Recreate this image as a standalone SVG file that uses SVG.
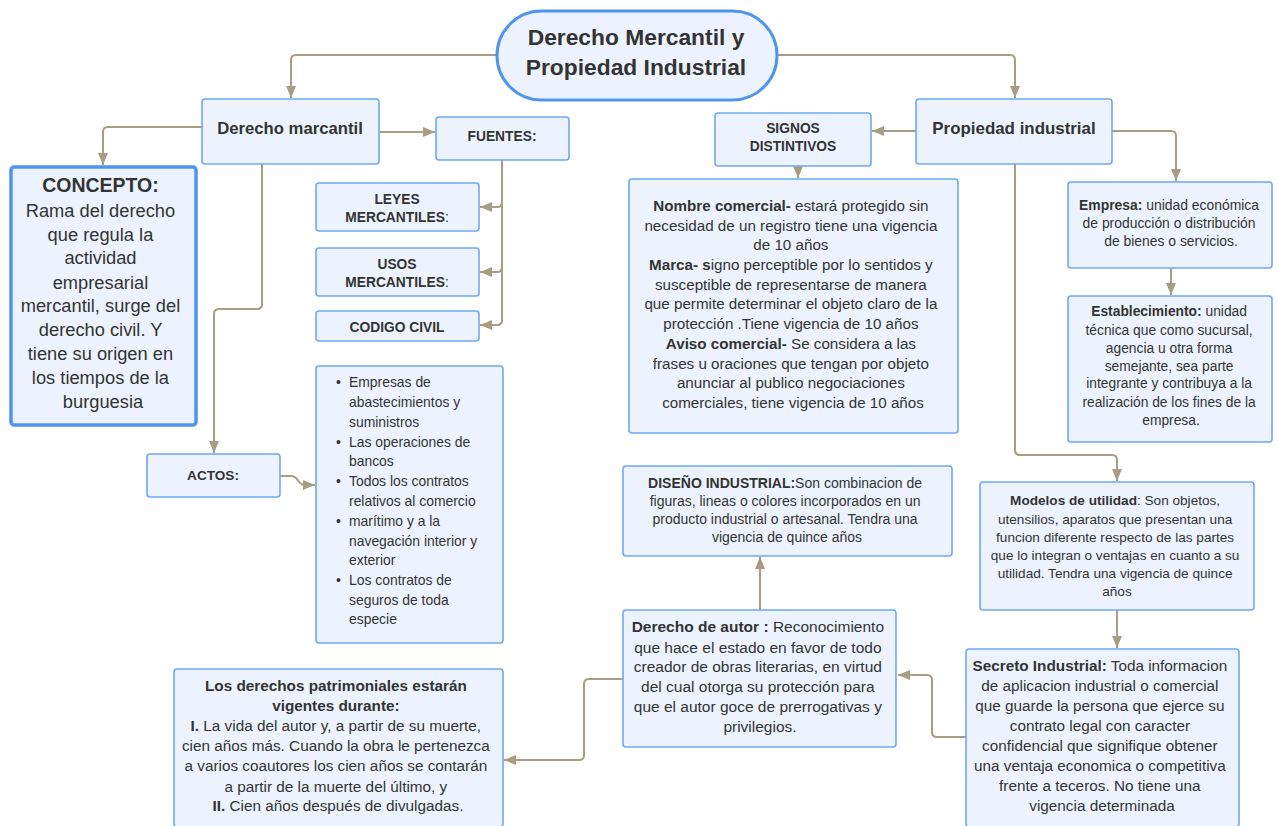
<svg xmlns="http://www.w3.org/2000/svg" width="1279" height="826" viewBox="0 0 1279 826">
<defs>
<marker id="ah" markerUnits="userSpaceOnUse" markerWidth="12" markerHeight="10" refX="12" refY="5" orient="auto">
<path d="M0,0 L12,5 L0,10 z" fill="#a69d82"/>
</marker>
<style>
.box{fill:#ecf3fe;stroke:#6ea9f3;stroke-width:1.6}
.t{font-family:"Liberation Sans",Arial,sans-serif;fill:#333333;text-anchor:middle}
.b{font-weight:bold}
.c{fill:none;stroke:#a69d82;stroke-width:2;marker-end:url(#ah)}
</style>
</defs>
<rect width="1279" height="826" fill="#ffffff"/>

<g id="connectors">
<path class="c" d="M496,55 H296 Q291,55 291,60 V98"/>
<path class="c" d="M777,55 H1010 Q1015,55 1015,60 V98"/>
<path class="c" d="M202,127 H108 Q103,127 103,132 V165"/>
<path class="c" d="M379,132 H435"/>
<path class="c" d="M502,160 V202 Q502,207 497,207 H480"/>
<path class="c" d="M502,160 V267 Q502,272 497,272 H480"/>
<path class="c" d="M502,160 V320 Q502,325 497,325 H480"/>
<path class="c" d="M262,164 V304 Q262,309 257,309 H219 Q214,309 214,314 V453"/>
<path class="c" d="M280,476 H291 C299,476 297,485 305,485 H315"/>
<path class="c" d="M916,131 H872"/>
<path class="c" d="M798,166 V178"/>
<path class="c" d="M1112,131 H1171 Q1176,131 1176,136 V181"/>
<path class="c" d="M1171,268 V295"/>
<path class="c" d="M1015,164 V450 Q1015,455 1020,455 H1112 Q1117,455 1117,460 V481"/>
<path class="c" d="M1117,610 V648"/>
<path class="c" d="M966,737 H937 Q932,737 932,732 V680 Q932,675 927,675 H898"/>
<path class="c" d="M760,610 V557"/>
<path class="c" d="M623,679 H589 Q584,679 584,684 V755 Q584,760 579,760 H504"/>
</g>

<g id="title">
<rect x="497" y="11" width="280" height="89" rx="44.5" fill="#ecf3fe" stroke="#4e95ee" stroke-width="3"/>
<text class="t b" font-size="22.8"><tspan x="636" y="45">Derecho Mercantil y</tspan><tspan x="636" y="75">Propiedad Industrial</tspan></text>
</g>

<g id="derecho-marcantil">
<rect class="box" x="202" y="99" width="177" height="65" rx="3"/>
<text class="t b" font-size="16.7" x="290" y="134">Derecho marcantil</text>
</g>

<g id="concepto">
<rect x="11" y="167" width="185" height="258" rx="3" fill="#ecf3fe" stroke="#4e95ee" stroke-width="3.5"/>
<text class="t" font-size="18.3">
<tspan x="103" y="192" font-weight="bold" font-size="19.5">CONCEPTO:</tspan>
<tspan x="103" y="217">Rama del derecho</tspan>
<tspan x="103" y="241">que regula la</tspan>
<tspan x="103" y="264">actividad</tspan>
<tspan x="103" y="289">empresarial</tspan>
<tspan x="103" y="312">mercantil, surge del</tspan>
<tspan x="103" y="336">derecho civil. Y</tspan>
<tspan x="103" y="360">tiene su origen en</tspan>
<tspan x="103" y="384">los tiempos de la</tspan>
<tspan x="103" y="408">burguesia</tspan>
</text>
</g>

<g id="fuentes">
<rect class="box" x="436" y="117" width="133" height="43" rx="3"/>
<text class="t b" font-size="13.8" x="502" y="141">FUENTES:</text>
</g>

<g id="leyes">
<rect class="box" x="316" y="183" width="163" height="48" rx="3"/>
<text class="t b" font-size="13.8"><tspan x="397" y="204">LEYES</tspan><tspan x="397" y="222">MERCANTILES<tspan font-weight="normal">:</tspan></tspan></text>
</g>

<g id="usos">
<rect class="box" x="316" y="248" width="163" height="48" rx="3"/>
<text class="t b" font-size="13.8"><tspan x="397" y="269">USOS</tspan><tspan x="397" y="287">MERCANTILES<tspan font-weight="normal">:</tspan></tspan></text>
</g>

<g id="codigo-civil">
<rect class="box" x="316" y="311" width="163" height="30" rx="3"/>
<text class="t b" font-size="13.8" x="397" y="332">CODIGO CIVIL</text>
</g>

<g id="actos">
<rect class="box" x="147" y="454" width="133" height="43" rx="3"/>
<text class="t b" font-size="13.6" x="213" y="480">ACTOS:</text>
</g>

<g id="actos-lista">
<rect class="box" x="316" y="366" width="187" height="277" rx="3"/>
<text class="t" font-size="13.9" style="text-anchor:start">
<tspan x="336" y="387">•</tspan><tspan x="349" y="387">Empresas de</tspan>
<tspan x="349" y="407">abastecimientos y</tspan>
<tspan x="349" y="427">suministros</tspan>
<tspan x="336" y="447">•</tspan><tspan x="349" y="447">Las operaciones de</tspan>
<tspan x="349" y="466">bancos</tspan>
<tspan x="336" y="486">•</tspan><tspan x="349" y="486">Todos los contratos</tspan>
<tspan x="349" y="506">relativos al comercio</tspan>
<tspan x="336" y="526">•</tspan><tspan x="349" y="526">marítimo y a la</tspan>
<tspan x="349" y="546">navegación interior y</tspan>
<tspan x="349" y="565">exterior</tspan>
<tspan x="336" y="585">•</tspan><tspan x="349" y="585">Los contratos de</tspan>
<tspan x="349" y="605">seguros de toda</tspan>
<tspan x="349" y="624">especie</tspan>
</text>
</g>

<g id="signos">
<rect class="box" x="715" y="113" width="156" height="53" rx="3"/>
<text class="t b" font-size="13.8"><tspan x="793" y="133">SIGNOS</tspan><tspan x="793" y="151">DISTINTIVOS</tspan></text>
</g>

<g id="nombre-comercial">
<rect class="box" x="629" y="179" width="329" height="254" rx="3"/>
<text class="t" font-size="15.2">
<tspan x="793" y="211"><tspan font-weight="bold">Nombre comercial-</tspan> estará protegido sin</tspan>
<tspan x="793" y="231">necesidad de un registro tiene una vigencia</tspan>
<tspan x="793" y="250">de 10 años</tspan>
<tspan x="793" y="270"><tspan font-weight="bold">Marca- s</tspan>igno perceptible por lo sentidos y</tspan>
<tspan x="793" y="290">susceptible de representarse de manera</tspan>
<tspan x="793" y="309">que permite determinar el objeto claro de la</tspan>
<tspan x="793" y="329">protección .Tiene vigencia de 10 años</tspan>
<tspan x="793" y="349"><tspan font-weight="bold">Aviso comercial-</tspan> Se considera a las</tspan>
<tspan x="793" y="369">frases u oraciones que tengan por objeto</tspan>
<tspan x="793" y="388">anunciar al publico negociaciones</tspan>
<tspan x="793" y="408">comerciales, tiene vigencia de 10 años</tspan>
</text>
</g>

<g id="propiedad-industrial">
<rect class="box" x="916" y="99" width="196" height="65" rx="3"/>
<text class="t b" font-size="16.9" x="1014" y="134">Propiedad industrial</text>
</g>

<g id="empresa">
<rect class="box" x="1068" y="182" width="204" height="86" rx="3"/>
<text class="t" font-size="13.9">
<tspan x="1171" y="210"><tspan font-weight="bold">Empresa:</tspan> unidad económica</tspan>
<tspan x="1171" y="228">de producción o distribución</tspan>
<tspan x="1171" y="246">de bienes o servicios.</tspan>
</text>
</g>

<g id="establecimiento">
<rect class="box" x="1068" y="296" width="204" height="146" rx="3"/>
<text class="t" font-size="13.8">
<tspan x="1171" y="316"><tspan font-weight="bold">Establecimiento:</tspan> unidad</tspan>
<tspan x="1171" y="335">técnica que como sucursal,</tspan>
<tspan x="1171" y="353">agencia u otra forma</tspan>
<tspan x="1171" y="371">semejante, sea parte</tspan>
<tspan x="1171" y="388">integrante y contribuya a la</tspan>
<tspan x="1171" y="407">realización de los fines de la</tspan>
<tspan x="1171" y="425">empresa.</tspan>
</text>
</g>

<g id="modelos-utilidad">
<rect class="box" x="980" y="482" width="274" height="128" rx="3"/>
<text class="t" font-size="13.6">
<tspan x="1117" y="505"><tspan font-weight="bold">Modelos de utilidad</tspan>: Son objetos,</tspan>
<tspan x="1117" y="524">utensilios, aparatos que presentan una</tspan>
<tspan x="1117" y="542">funcion diferente respecto de las partes</tspan>
<tspan x="1117" y="560">que lo integran o ventajas en cuanto a su</tspan>
<tspan x="1117" y="578">utilidad. Tendra una vigencia de quince</tspan>
<tspan x="1117" y="596">años</tspan>
</text>
</g>

<g id="secreto-industrial">
<rect class="box" x="966" y="649" width="273" height="178" rx="3"/>
<text class="t" font-size="15.3">
<tspan x="1102" y="671"><tspan font-weight="bold">Secreto Industrial:</tspan> Toda informacion</tspan>
<tspan x="1102" y="691">de aplicacion industrial o comercial</tspan>
<tspan x="1102" y="711">que guarde la persona que ejerce su</tspan>
<tspan x="1102" y="731">contrato legal con caracter</tspan>
<tspan x="1102" y="751">confidencial que signifique obtener</tspan>
<tspan x="1102" y="771">una ventaja economica o competitiva</tspan>
<tspan x="1102" y="791">frente a teceros. No tiene una</tspan>
<tspan x="1102" y="811">vigencia determinada</tspan>
</text>
</g>

<g id="diseno-industrial">
<rect class="box" x="623" y="466" width="329" height="90" rx="3"/>
<text class="t" font-size="14">
<tspan x="787" y="488"><tspan font-weight="bold">DISEÑO INDUSTRIAL:</tspan>Son combinacion de</tspan>
<tspan x="787" y="506">figuras, lineas o colores incorporados en un</tspan>
<tspan x="787" y="524">producto industrial o artesanal. Tendra una</tspan>
<tspan x="787" y="542">vigencia de quince años</tspan>
</text>
</g>

<g id="derecho-autor">
<rect class="box" x="623" y="610" width="273" height="137" rx="3"/>
<text class="t" font-size="15.5">
<tspan x="760" y="632"><tspan font-weight="bold">Derecho de autor :</tspan> Reconocimiento</tspan>
<tspan x="760" y="653">que hace el estado en favor de todo</tspan>
<tspan x="760" y="672">creador de obras literarias, en virtud</tspan>
<tspan x="760" y="692">del cual otorga su protección para</tspan>
<tspan x="760" y="712">que el autor goce de prerrogativas y</tspan>
<tspan x="760" y="732">privilegios.</tspan>
</text>
</g>

<g id="derechos-patrimoniales">
<rect class="box" x="174" y="669" width="329" height="158" rx="3"/>
<text class="t" font-size="15.3">
<tspan x="338" y="691" font-weight="bold">Los derechos patrimoniales estarán</tspan>
<tspan x="338" y="711" font-weight="bold">vigentes durante:</tspan>
<tspan x="338" y="731"><tspan font-weight="bold">I.</tspan> La vida del autor y, a partir de su muerte,</tspan>
<tspan x="338" y="751">cien años más. Cuando la obra le pertenezca</tspan>
<tspan x="338" y="771">a varios coautores los cien años se contarán</tspan>
<tspan x="338" y="792">a partir de la muerte del último, y</tspan>
<tspan x="338" y="811"><tspan font-weight="bold">II.</tspan> Cien años después de divulgadas.</tspan>
</text>
</g>
</svg>
